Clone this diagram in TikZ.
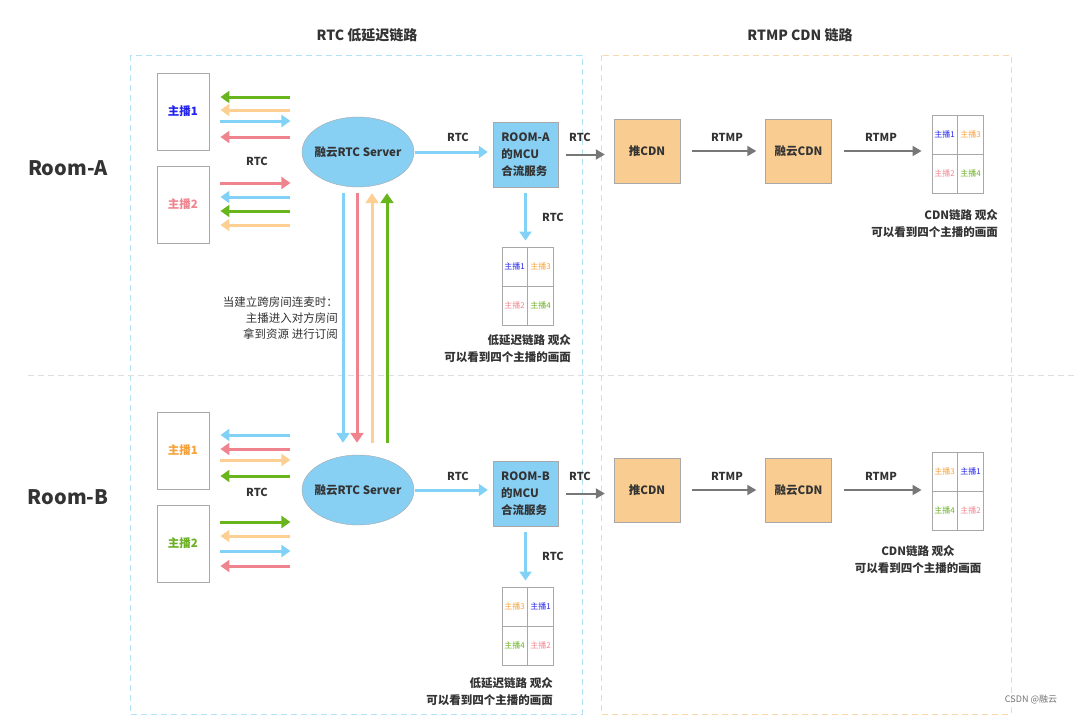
\documentclass[tikz,border=0pt]{standalone}
\usepackage{fontspec}
\setmainfont{Noto Sans CJK SC}
\usetikzlibrary{arrows.meta, positioning, shapes.geometric}
\definecolor{rtcBlue}{HTML}{82D2F7}
\definecolor{rtcPink}{HTML}{F0848E}
\definecolor{rtcPeach}{HTML}{FDCF92}
\definecolor{rtcGreen}{HTML}{69B51C}
\definecolor{nameBlue}{HTML}{2323F0}
\definecolor{nameOrange}{HTML}{F6A23A}
\definecolor{namePink}{HTML}{F08590}
\definecolor{nameGreen}{HTML}{6BB023}
\definecolor{serverFill}{HTML}{88CFF4}
\definecolor{cdnFill}{HTML}{F9CD91}
\definecolor{txtDark}{HTML}{333333}
\definecolor{lineGray}{HTML}{777777}
\definecolor{boxGray}{HTML}{A8A8A8}
\definecolor{frameBlue}{HTML}{B3E1F5}
\definecolor{frameOrange}{HTML}{FAD8AE}

\begin{document}
\begin{tikzpicture}[x=1pt, y=-1pt,
	host/.style={draw=boxGray, line width=0.9pt, minimum width=52pt, minimum height=77pt, inner sep=0pt, font=\bfseries\fontsize{11.5}{13}\selectfont},
	server/.style={ellipse, draw=boxGray, fill=serverFill, minimum width=112pt, minimum height=70pt, inner sep=0pt,
		label={[text=txtDark, font=\bfseries\fontsize{11.5}{13}\selectfont]center:融云RTC Server}},
	mcu/.style={draw=boxGray, fill=serverFill, minimum size=65pt, inner sep=2pt, align=left, text=txtDark, font=\bfseries\fontsize{11.5}{17}\selectfont},
	cdnbox/.style={draw=boxGray, fill=cdnFill, minimum width=66pt, minimum height=64pt, inner sep=0pt, text=txtDark, font=\bfseries\fontsize{11.5}{13}\selectfont},
	screen/.style={draw=boxGray, line width=0.9pt, minimum width=51pt, minimum height=78pt, inner sep=0pt},
	cell/.style={inner sep=0pt, font=\fontsize{8}{9}\selectfont},
	lbl/.style={inner sep=0pt, text=txtDark, font=\bfseries\fontsize{11}{13}\selectfont},
	caption/.style={inner sep=0pt, text=txtDark, font=\bfseries\fontsize{11.5}{17}\selectfont},
	rtcarrow/.style={line width=3pt},
	lft/.style={{Triangle[length=9pt,width=12pt]}-},
	rgt/.style={-{Triangle[length=9pt,width=12pt]}},
	bigarrow/.style={line width=3pt, -{Triangle[length=10pt,width=13pt]}},
	grayarrow/.style={lineGray, line width=2pt, -{Triangle[length=9pt,width=10pt]}}]
	\useasboundingbox (0,0) rectangle (1080,715);
	%-------------------------------------------------------------------------------
	% frames
	%-------------------------------------------------------------------------------
	\draw[frameBlue, line width=1pt, dash pattern=on 6pt off 4pt] (130,55) rectangle (582,714);
	\draw[frameOrange, line width=1pt, dash pattern=on 6pt off 4pt] (601,55) rectangle (1011,714);
	\draw[black!13, line width=1pt, dash pattern=on 6pt off 4pt] (28,375) -- (1078,375);
	\node[text=txtDark, font=\bfseries\fontsize{14}{16}\selectfont] (titleRtc) at (367,35) {RTC 低延迟链路};
	\node[text=txtDark, font=\bfseries\fontsize{14}{16}\selectfont] (titleCdn) at (800,35) {RTMP CDN 链路};
	\node[text=txtDark, font=\bfseries\fontsize{20}{22}\selectfont] (roomA) at (68,168) {Room-A};
	\node[text=txtDark, font=\bfseries\fontsize{20}{22}\selectfont] (roomB) at (68,497) {Room-B};

	%-------------------------------------------------------------------------------
	% Room-A
	%-------------------------------------------------------------------------------
	% core nodes
	\node[host, text=nameBlue] (hostA1) at (183,111.5) {主播1};
	\node[host, text=namePink] (hostA2) at (183,204.5) {主播2};
	\node[server] (srvA) at (358,152) {};
	\node[mcu] (mcuA) at (525.5,154.5) {ROOM-A\\的MCU\\合流服务};
	\node[screen] (gridA) at (527.5,286) {};
	\node[cdnbox] (pushA) at (647,151) {推CDN};
	\node[cdnbox] (cdnA) at (798.5,151) {融云CDN};
	\node[screen] (cdnGridA) at (957.5,154) {};
	% anchors to server
	\foreach \yy/\col/\dir in {97/rtcGreen/lft, 110/rtcPeach/lft, 121/rtcBlue/rgt, 137/rtcPink/lft,
		183/rtcPink/rgt, 197/rtcBlue/lft, 211/rtcGreen/lft, 225/rtcPeach/lft}
		\draw[rtcarrow, \col, \dir] ([xshift=11pt]hostA1.east |- 0,\yy) -- ++(70,0);
	\node[lbl] (rtcA0) at (257,161) {RTC};
	% forward
	\draw[rtcarrow, rtcBlue, rgt, shorten <=1pt, shorten >=5pt] (srvA.east) -- (srvA.east -| mcuA.west);
	\node[lbl] (rtcA1) at (458,137) {RTC};
	\draw[grayarrow, shorten <=8pt, shorten >=9pt] (mcuA.east) -- (mcuA.east -| pushA.west);
	\node[lbl] (rtcA2) at (580,137) {RTC};
	\draw[rtcarrow, rtcBlue, rgt, shorten <=6pt, shorten >=6pt] (mcuA.south) -- (mcuA.south |- gridA.north);
	\node[lbl] (rtcA3) at (553,217) {RTC};
	\draw[grayarrow, shorten <=12pt, shorten >=9pt] (pushA.east) -- (cdnA.west);
	\node[lbl] (rtmpA1) at (727,137) {RTMP};
	\draw[grayarrow, shorten <=12pt, shorten >=10pt] (cdnA.east) -- (cdnA.east -| cdnGridA.west);
	\node[lbl] (rtmpA2) at (881,137) {RTMP};
	% screens
	\draw[boxGray, line width=0.9pt] (gridA.north) -- (gridA.south) (gridA.west) -- (gridA.east);
	\node[cell, text=nameBlue] (gA1) at (514.5,266.5) {主播1};
	\node[cell, text=nameOrange] (gA3) at (540.5,266.5) {主播3};
	\node[cell, text=namePink] (gA2) at (514.5,305.5) {主播2};
	\node[cell, text=nameGreen] (gA4) at (540.5,305.5) {主播4};
	\node[caption, align=right, anchor=north east] (capA) at (571,334) {低延迟链路 观众\\可以看到四个主播的画面};
	\draw[boxGray, line width=0.9pt] (cdnGridA.north) -- (cdnGridA.south) (cdnGridA.west) -- (cdnGridA.east);
	\node[cell, text=nameBlue] (cA1) at (944.5,134.5) {主播1};
	\node[cell, text=nameOrange] (cA3) at (970.5,134.5) {主播3};
	\node[cell, text=namePink] (cA2) at (944.5,173.5) {主播2};
	\node[cell, text=nameGreen] (cA4) at (970.5,173.5) {主播4};
	\node[caption, align=right, anchor=north east] (capCdnA) at (998,209) {CDN链路 观众\\可以看到四个主播的画面};

	%-------------------------------------------------------------------------------
	% Room-B
	%-------------------------------------------------------------------------------
	% core nodes
	\node[host, text=nameOrange] (hostB1) at (183,450.5) {主播1};
	\node[host, text=nameGreen] (hostB2) at (183,543.5) {主播2};
	\node[server] (srvB) at (358,490) {};
	\node[mcu] (mcuB) at (525.5,493.5) {ROOM-B\\的MCU\\合流服务};
	\node[screen] (gridB) at (527.5,626) {};
	\node[cdnbox] (pushB) at (647,490) {推CDN};
	\node[cdnbox] (cdnB) at (798.5,490) {融云CDN};
	\node[screen] (cdnGridB) at (957.5,491) {};
	% anchors to server
	\foreach \yy/\col/\dir in {435/rtcBlue/lft, 449/rtcPink/lft, 460/rtcPeach/rgt, 476/rtcGreen/lft,
		522/rtcGreen/rgt, 536/rtcPeach/lft, 551/rtcBlue/rgt, 566/rtcPink/lft}
		\draw[rtcarrow, \col, \dir] ([xshift=11pt]hostB1.east |- 0,\yy) -- ++(70,0);
	\node[lbl] (rtcB0) at (257,492) {RTC};
	% forward
	\draw[rtcarrow, rtcBlue, rgt, shorten <=1pt, shorten >=5pt] (srvB.east) -- (srvB.east -| mcuB.west);
	\node[lbl] (rtcB1) at (458,476) {RTC};
	\draw[grayarrow, shorten <=8pt, shorten >=9pt] (mcuB.east) -- (mcuB.east -| pushB.west);
	\node[lbl] (rtcB2) at (580,476) {RTC};
	\draw[rtcarrow, rtcBlue, rgt, shorten <=6pt, shorten >=6pt] (mcuB.south) -- (mcuB.south |- gridB.north);
	\node[lbl] (rtcB3) at (553,556) {RTC};
	\draw[grayarrow, shorten <=12pt, shorten >=9pt] (pushB.east) -- (cdnB.west);
	\node[lbl] (rtmpB1) at (727,476) {RTMP};
	\draw[grayarrow, shorten <=12pt, shorten >=10pt] (cdnB.east) -- (cdnB.east -| cdnGridB.west);
	\node[lbl] (rtmpB2) at (881,476) {RTMP};
	% screens
	\draw[boxGray, line width=0.9pt] (gridB.north) -- (gridB.south) (gridB.west) -- (gridB.east);
	\node[cell, text=nameOrange] (gB3) at (514.5,606.5) {主播3};
	\node[cell, text=nameBlue] (gB1) at (540.5,606.5) {主播1};
	\node[cell, text=nameGreen] (gB4) at (514.5,645.5) {主播4};
	\node[cell, text=namePink] (gB2) at (540.5,645.5) {主播2};
	\node[caption, align=right, anchor=north east] (capB) at (553,677) {低延迟链路 观众\\可以看到四个主播的画面};
	\draw[boxGray, line width=0.9pt] (cdnGridB.north) -- (cdnGridB.south) (cdnGridB.west) -- (cdnGridB.east);
	\node[cell, text=nameOrange] (cB3) at (944.5,471.5) {主播3};
	\node[cell, text=nameBlue] (cB1) at (970.5,471.5) {主播1};
	\node[cell, text=nameGreen] (cB4) at (944.5,510.5) {主播4};
	\node[cell, text=namePink] (cB2) at (970.5,510.5) {主播2};
	\node[caption, align=center, anchor=north] (capCdnB) at (918,545) {CDN链路 观众\\可以看到四个主播的画面};

	%-------------------------------------------------------------------------------
	% cross room
	%-------------------------------------------------------------------------------
	\draw[bigarrow, rtcBlue, shorten <=6pt, shorten >=12pt] ([xshift=-15pt]srvA.south) -- ([xshift=-15pt]srvB.north);
	\draw[bigarrow, rtcPink, shorten <=6pt, shorten >=12pt] ([xshift=-1pt]srvA.south) -- ([xshift=-1pt]srvB.north);
	\draw[bigarrow, rtcPeach, shorten <=12pt, shorten >=6pt] ([xshift=14pt]srvB.north) -- ([xshift=14pt]srvA.south);
	\draw[bigarrow, rtcGreen, shorten <=12pt, shorten >=6pt] ([xshift=29pt]srvB.north) -- ([xshift=29pt]srvA.south);
	\node[inner sep=0pt, align=right, anchor=east, text=txtDark, font=\fontsize{11.5}{16}\selectfont] (crossNote) at (338,318)
		{当建立跨房间连麦时：\\主播进入对方房间\\拿到资源 进行订阅};

	% watermark
	\node[inner sep=0pt, text=black!55, font=\fontsize{9}{10}\selectfont] (mark) at (1031,700) {CSDN @融云};
\end{tikzpicture}
\end{document}
